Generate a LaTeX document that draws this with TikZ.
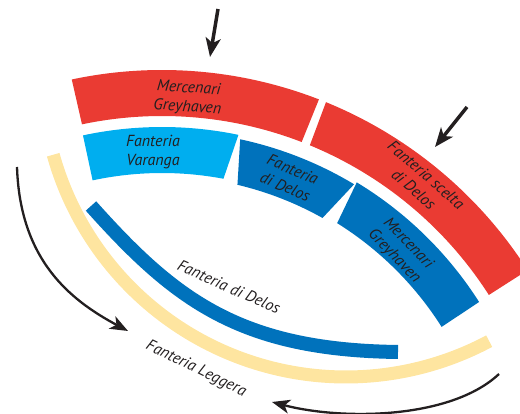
\documentclass[tikz,border=0pt]{standalone}
\usepackage{fontspec}
\setmainfont{PT Sans}
\usetikzlibrary{arrows.meta,calc}
\definecolor{cred}{RGB}{234,59,51}
\definecolor{ccyan}{RGB}{0,174,239}
\definecolor{cblue}{RGB}{0,114,188}
\definecolor{cyel}{RGB}{254,229,160}
\definecolor{cink}{RGB}{35,31,32}
% sector: colour, outer radius, inner radius, outer start, outer end, inner start, inner end
\newcommand\mysector[7]{%
  \fill[#1] ($(C)+(#4:#2)$) arc[start angle=#4,end angle=#5,radius=#2]
    -- ($(C)+(#6:#3)$) arc[start angle=#6,end angle=#7,radius=#3] -- cycle;}
\begin{document}
\begin{tikzpicture}[x=1pt,y=1pt,
  lbl/.style={text=cink,font=\fontsize{16}{19}\selectfont\itshape,align=center,inner sep=0pt},
  bigarrow/.style={draw=cink,line width=3.5pt,-{Stealth[length=19pt,width=15pt,inset=5pt]}},
  curvearrow/.style={draw=cink,line width=2.3pt,-{Stealth[length=18pt,width=14pt,inset=5pt]}}]
\useasboundingbox (0,0) rectangle (520,414);
\clip (0,0) rectangle (520,414);
\coordinate (C) at (162,-90);
\coordinate (Y) at (346,341);
% outer red ring
\mysector{cred}{434}{388}{102}{68.8}{68.9}{101.9}
\mysector{cred}{434}{388}{67.8}{32.6}{32.6}{67.6}
% inner ring
\mysector{ccyan}{377}{331}{102.1}{78.3}{79.3}{102.1}
\mysector{cblue}{373}{328}{77.9}{59.0}{60.7}{76.7}
\mysector{cblue}{376}{331}{58.8}{32.5}{32.35}{58.05}
% light infantry arc
\draw[cyel,line width=13pt] ($(Y)+(195.6:304)$) arc[start angle=195.6,end angle=298.1,radius=304];
% blue curved bar
\draw[cblue,line width=14pt] (91,208) .. controls (175,114) and (240,64) .. (398,62);
% labels
\node[lbl,rotate=-4] (mg1) at (188,316) {Mercenari\\Greyhaven};
\node[lbl] (fv) at (153,262) {Fanteria\\Varanga};
\node[lbl,rotate=-23] (fd1) at (289,236) {Fanteria\\di Delos};
\node[lbl,rotate=-46] (mg2) at (401,164) {Mercenari\\Greyhaven};
\node[lbl,rotate=-41] (fs) at (420,232) {Fanteria scelta\\di Delos};
\node[lbl,rotate=-24] (fd2) at (229,127) {Fanteria di Delos};
\node[lbl,rotate=-26] (fl) at (196,45) {Fanteria Leggera};
% arrows
\coordinate (a1s) at (218,405); \coordinate (a1e) at (210,357);
\coordinate (a2s) at (467,307); \coordinate (a2e) at (435,267);
\coordinate (a3s) at (17,247);  \coordinate (a3e) at (128,83);
\coordinate (a4s) at (499,40);  \coordinate (a4e) at (272,12);
\draw[bigarrow] (a1s) -- (a1e);
\draw[bigarrow] (a2s) -- (a2e);
\draw[curvearrow] (a3s) .. controls (20,154) and (70,114) .. (a3e);
\draw[curvearrow] (a4s) .. controls (450,-6) and (340,-6) .. (a4e);
\end{tikzpicture}
\end{document}
